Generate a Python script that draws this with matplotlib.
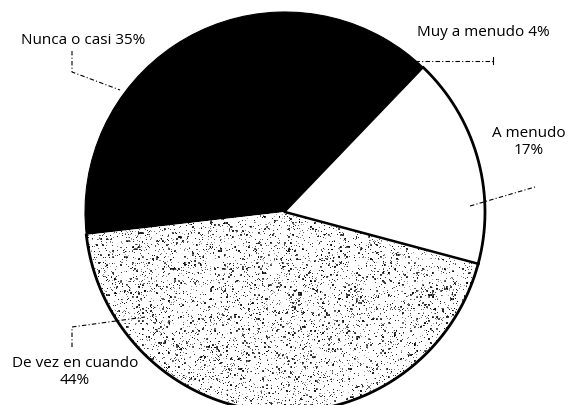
import numpy as np
import matplotlib.pyplot as plt

# frequency of the activity
categories = ["A menudo", "Muy a menudo", "Nunca o casi", "De vez en cuando"]
shares = [17, 4, 35, 44]
label_texts = ["A menudo\n17%", "Muy a menudo 4%", "Nunca o casi 35%", "De vez en cuando\n44%"]
fills = ["white", "black", "black", "white"]

W, H = 579, 405
fig = plt.figure(figsize=(W / 100, H / 100), dpi=100)
ax = fig.add_axes([0, 0, 1, 1])

cx, cy, r = 285, H - 212, 200
wedges, _ = ax.pie(shares, startangle=-15, counterclock=True, colors=fills,
                   center=(cx, cy), radius=r, frame=True,
                   wedgeprops=dict(linewidth=0))
ax.set_xlim(0, W)
ax.set_ylim(0, H)
ax.set_aspect("equal")
ax.axis("off")
# hide the seam between the two dark slices
for w in (wedges[1], wedges[2]):
    w.set_edgecolor("black")
    w.set_linewidth(0.8)

# speckled fill for the largest slice: fine grain plus some coarser clumps
rng = np.random.default_rng(7)
tex = np.ones((H, W))
fine = rng.random((H, W)) < 0.08
tex[fine] = rng.uniform(0.0, 0.7, fine.sum())
coarse = np.kron(rng.random((H // 2 + 1, W // 2 + 1)) < 0.045, np.ones((2, 2)))[:H, :W] > 0
tex[coarse] = np.minimum(tex[coarse], rng.uniform(0.0, 0.5, coarse.sum()))
im = ax.imshow(tex, cmap="gray", vmin=0, vmax=1, extent=(0, W, 0, H),
               interpolation="nearest", zorder=2)
im.set_clip_path(wedges[3])

# outlines of the light slices
for i in (0, 3):
    t1, t2 = wedges[i].theta1, wedges[i].theta2
    th = np.radians(np.linspace(t1, t2, 200))
    ax.plot(cx + r * np.cos(th), cy + r * np.sin(th), color="black", lw=2, zorder=3)
th = np.radians(wedges[0].theta1)
ax.plot([cx, cx + r * np.cos(th)], [cy, cy + r * np.sin(th)], color="black", lw=1.8, zorder=3)

font = dict(family="Open Sans", fontsize=11, color="black")
lead = dict(color="black", lw=0.8, ls=(0, (4, 2, 1, 2)), zorder=4)

# Nunca o casi
ax.text(83, H - 40, label_texts[2], ha="center", va="center", **font)
ax.plot([72, 72, 120], [H - 51, H - 72, H - 90], **lead)
# Muy a menudo
ax.text(483, H - 33, label_texts[1], ha="center", va="center", **font)
ax.plot([415, 493], [H - 61, H - 61], **lead)
ax.plot([493, 493], [H - 57, H - 64], color="black", lw=0.8)
# A menudo
ax.text(529, H - 142, label_texts[0], ha="center", va="center", linespacing=1.15, **font)
ax.plot([470, 535], [H - 206, H - 187], **lead)
# De vez en cuando
ax.text(75, H - 372, label_texts[3], ha="center", va="center", linespacing=1.15, **font)
ax.plot([72, 72, 145], [H - 347, H - 327, H - 317], **lead)

fig.savefig("out.png", dpi=100)
